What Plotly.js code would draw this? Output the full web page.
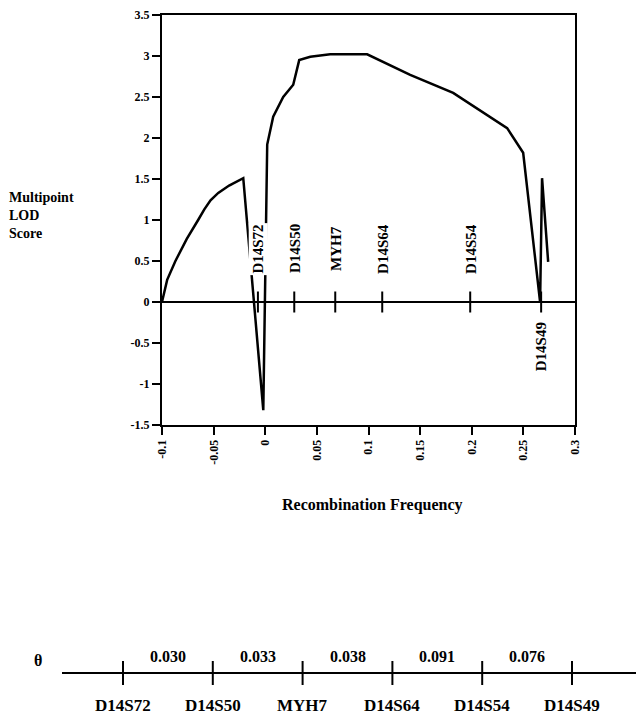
<!DOCTYPE html>
<html>
<head>
<meta charset="utf-8">
<script src="https://cdn.plot.ly/plotly-3.0.1.min.js"></script>
<style>html,body{margin:0;padding:0;background:#fff;}</style>
</head>
<body>
<div id="chart" style="width:636px;height:714px;"></div>
<script>
// ---- LOD curve (recombination frequency vs multipoint LOD score) ----
const lodX = [-0.1, -0.095, -0.087, -0.076, -0.065, -0.059, -0.053, -0.0455, -0.035, -0.0213, -0.0019, 0.0019, 0.0077, 0.0174, 0.0271, 0.0329, 0.0436, 0.0629, 0.0987, 0.1404, 0.182, 0.2081, 0.2343, 0.2498, 0.2662, 0.2681, 0.274];
const lodY = [0, 0.27, 0.5, 0.77, 1.0, 1.13, 1.24, 1.33, 1.42, 1.51, -1.32, 1.92, 2.26, 2.5, 2.65, 2.95, 2.99, 3.02, 3.02, 2.77, 2.55, 2.34, 2.12, 1.82, 0, 1.51, 0.49];

// ---- markers on the LOD plot ----
const markerNames = ["D14S72", "D14S50", "MYH7", "D14S64", "D14S54", "D14S49"];
const markerPos = [-0.0071, 0.0281, 0.0678, 0.1133, 0.1985, 0.2672];
const markerLabelY = [0.65, 0.65, 0.65, 0.65, 0.65, -0.55];

// ---- axis ticks ----
const xTickVals = [-0.1, -0.05, 0, 0.05, 0.1, 0.15, 0.2, 0.25, 0.3];
const xTickText = ["-0.1", "-0.05", "0", "0.05", "0.1", "0.15", "0.2", "0.25", "0.3"];
const yTickVals = [-1.5, -1, -0.5, 0, 0.5, 1, 1.5, 2, 2.5, 3, 3.5];
const yTickText = ["-1.5", "-1", "-0.5", "0", "0.5", "1", "1.5", "2", "2.5", "3", "3.5"];

// ---- genetic map (theta between adjacent markers) ----
const mapIndex = [0, 1, 2, 3, 4, 5];
const intervalTheta = ["0.030", "0.033", "0.038", "0.091", "0.076"];

const FONT = "Liberation Serif, Times New Roman, serif";
const W = 636, H = 714;
const px = v => v / W, py = v => 1 - v / H;

const traces = [
  {x: lodX, y: lodY, type: "scatter", mode: "lines", xaxis: "x", yaxis: "y",
   line: {color: "#000", width: 2.5}, hoverinfo: "skip"},
  {x: markerPos, y: markerPos.map(() => 0), type: "scatter", mode: "markers", xaxis: "x", yaxis: "y",
   marker: {symbol: "line-ns", size: 15, line: {color: "#000", width: 2}}, hoverinfo: "skip"},
  {x: mapIndex, y: mapIndex.map(() => 0), type: "scatter", mode: "markers", xaxis: "x2", yaxis: "y2",
   marker: {symbol: "line-ns", size: 17, line: {color: "#000", width: 2}}, hoverinfo: "skip"}
];

const annotations = [];
markerNames.forEach((n, i) => {
  annotations.push({x: markerPos[i], y: markerLabelY[i], xref: "x", yref: "y", text: n,
    xanchor: "center", yanchor: "middle",
    textangle: -90, showarrow: false, bgcolor: "#fff", borderpad: 1,
    font: {family: FONT, size: 15, color: "#000", weight: "bold"}});
});
intervalTheta.forEach((t, i) => {
  annotations.push({x: mapIndex[i] + 0.5, y: py(656), xref: "x2", yref: "paper", text: t,
    xanchor: "center", yanchor: "middle",
    showarrow: false, font: {family: FONT, size: 16, color: "#000", weight: "bold"}});
});
markerNames.forEach((n, i) => {
  annotations.push({x: mapIndex[i], y: py(705), xref: "x2", yref: "paper", text: n,
    xanchor: "center", yanchor: "middle",
    showarrow: false, font: {family: FONT, size: 17, color: "#000", weight: "bold"}});
});
annotations.push({x: px(38), y: py(660), xref: "paper", yref: "paper", text: "θ",
  xanchor: "center", yanchor: "middle",
  showarrow: false, font: {family: FONT, size: 16, color: "#000", weight: "bold"}});
annotations.push({x: px(7), y: py(215), xref: "paper", yref: "paper", xanchor: "left", yanchor: "middle", align: "left",
  text: "Multipoint<br>LOD<br>Score", showarrow: false,
  font: {family: FONT, size: 14, color: "#000", weight: "bold"}});
annotations.push({x: px(372), y: py(505), xref: "paper", yref: "paper",
  xanchor: "center", yanchor: "middle",
  text: "Recombination Frequency", showarrow: false,
  font: {family: FONT, size: 16, color: "#000", weight: "bold"}});

const tickFont = {family: FONT, size: 12, color: "#000", weight: "bold"};

const layout = {
  width: W, height: H, margin: {l: 0, r: 0, t: 0, b: 0},
  paper_bgcolor: "#fff", plot_bgcolor: "#fff", showlegend: false,
  xaxis: {domain: [px(162), px(575)], range: [-0.1, 0.3], anchor: "y",
    tickmode: "array", tickvals: xTickVals, ticktext: xTickText, tickangle: -90,
    ticks: "outside", ticklen: 8, tickwidth: 2, tickcolor: "#000",
    showline: true, linecolor: "#000", linewidth: 2, mirror: true,
    showgrid: false, zeroline: false, tickfont: tickFont},
  yaxis: {domain: [py(425), py(15)], range: [-1.5, 3.5], anchor: "x",
    tickmode: "array", tickvals: yTickVals, ticktext: yTickText,
    ticks: "outside", ticklen: 8, tickwidth: 2, tickcolor: "#000",
    showline: true, linecolor: "#000", linewidth: 2, mirror: true,
    showgrid: false, zeroline: true, zerolinecolor: "#000", zerolinewidth: 2.5,
    tickfont: tickFont},
  xaxis2: {domain: [px(62), 1], range: [(62 - 123) / 89.8, (636 - 123) / 89.8], anchor: "y2",
    visible: false, showgrid: false, zeroline: false},
  yaxis2: {domain: [0, 0.1], range: [-1.35, 1], anchor: "x2",
    showticklabels: false, ticks: "", showgrid: false, showline: false,
    zeroline: true, zerolinecolor: "#000", zerolinewidth: 2.5},
  annotations: annotations
};

Plotly.newPlot("chart", traces, layout, {staticPlot: true, displayModeBar: false});
</script>
</body>
</html>
